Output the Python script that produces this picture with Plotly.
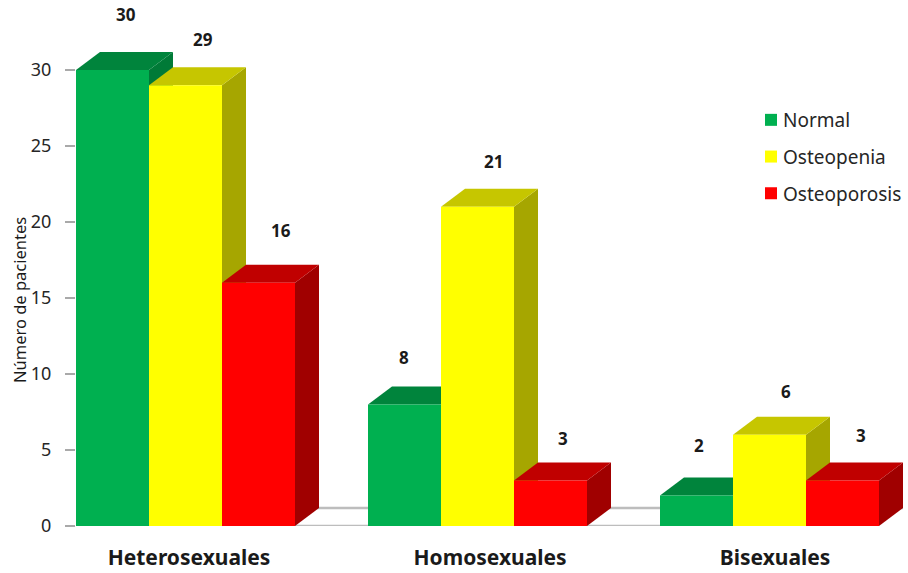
import plotly.graph_objects as go

categories = ["Heterosexuales", "Homosexuales", "Bisexuales"]
series_names = ["Normal", "Osteopenia", "Osteoporosis"]
normal = [30, 8, 2]
osteopenia = [29, 21, 6]
osteoporosis = [16, 3, 3]
y_ticks = [0, 5, 10, 15, 20, 25, 30]
y_title = "Número de pacientes"

series_values = [normal, osteopenia, osteoporosis]
front_colors = ["#00B050", "#FFFF00", "#FF0000"]
top_colors = ["#00843C", "#C6C600", "#C00000"]
side_colors = ["#007A37", "#A6A600", "#A00000"]

W, H = 908, 573
M_L, M_B = 76, 47
PX_PER_GROUP = 292.0
PX_PER_UNIT = 15.2
BAR_W = 0.25
DX = 24 / PX_PER_GROUP
DY = 18 / PX_PER_UNIT
X_MIN = -1.5 * BAR_W
X_MAX = X_MIN + (W - M_L) / PX_PER_GROUP
Y_MAX = (H - M_B) / PX_PER_UNIT

# pixel nudges of the value labels, indexed [series][category]
label_shift_x = [[13, -1, 2], [17, 16, 16], [22, 12, 18]]
label_shift_y = [[56, 47, 50], [46, 45, 43], [52, 42, 45]]
# x-nudge of category labels, in group units
cat_label_nudge = [0.012, 0.043, 0.019]

FONT = "Noto Sans"
fig = go.Figure()

# floor: back edge and front edge
x_end = 2 + 1.5 * BAR_W
fig.add_trace(go.Scatter(x=[X_MIN + DX, x_end + DX], y=[DY, DY], mode="lines",
                         line=dict(color="#BDBDBD", width=2.5), showlegend=False,
                         hoverinfo="skip", cliponaxis=False))
fig.add_trace(go.Scatter(x=[X_MIN, x_end], y=[0, 0], mode="lines",
                         line=dict(color="#BDBDBD", width=2.5), showlegend=False,
                         hoverinfo="skip", cliponaxis=False))
fig.add_trace(go.Scatter(x=[X_MIN, X_MIN], y=[0, max(y_ticks)], mode="lines",
                         line=dict(color="#A9A9A9", width=2), showlegend=False,
                         hoverinfo="skip", cliponaxis=False))

# depth faces, painted group by group and left to right
for g in range(len(categories)):
    for s, vals in enumerate(series_values):
        v = vals[g]
        x0 = g + (s - 1.5) * BAR_W
        x1 = x0 + BAR_W
        fig.add_trace(go.Scatter(
            x=[x1, x1 + DX, x1 + DX, x1, x1], y=[0, DY, v + DY, v, 0],
            mode="lines", fill="toself", fillcolor=side_colors[s],
            line=dict(width=0, color=side_colors[s]), showlegend=False,
            hoverinfo="skip", cliponaxis=False))
        fig.add_trace(go.Scatter(
            x=[x0, x0 + DX, x1 + DX, x1, x0], y=[v, v + DY, v + DY, v, v],
            mode="lines", fill="toself", fillcolor=top_colors[s],
            line=dict(width=0, color=top_colors[s]), showlegend=False,
            hoverinfo="skip", cliponaxis=False))

# front faces, on an overlaying pair of axes so they sit above the depth faces
for s, name in enumerate(series_names):
    fig.add_trace(go.Bar(x=list(range(len(categories))), y=series_values[s], name=name,
                         marker=dict(color=front_colors[s], line=dict(width=0)),
                         xaxis="x2", yaxis="y2", legendgroup=name))

# value labels
for s, vals in enumerate(series_values):
    for g, v in enumerate(vals):
        fig.add_annotation(x=g + (s - 1) * BAR_W, y=v, xref="x", yref="y", text=str(v),
                           showarrow=False, xshift=label_shift_x[s][g], yshift=label_shift_y[s][g],
                           font=dict(family=FONT, size=17, color="#1A1A1A", weight="bold"))

# y-axis title: centred lower than the axis domain in the reference
fig.add_annotation(xref="paper", yref="paper", x=(19 - M_L) / (W - M_L), y=1 - 300 / (H - M_B),
                   xanchor="center", yanchor="middle", text=y_title, textangle=-90,
                   showarrow=False, font=dict(family=FONT, size=16.5, color="#1A1A1A"))

axis_range_x = [X_MIN, X_MAX]
axis_range_y = [0, Y_MAX]
fig.update_layout(
    width=W, height=H, autosize=False,
    margin=dict(l=M_L, r=0, t=0, b=M_B, pad=0),
    paper_bgcolor="white", plot_bgcolor="white",
    barmode="group", bargap=0.25, bargroupgap=0,
    font=dict(family=FONT, color="#262626"),
    showlegend=True,
    legend=dict(x=(752 - M_L) / (W - M_L), xanchor="left", y=1 - 101 / (H - M_B), yanchor="top",
                font=dict(family=FONT, size=19, color="#262626"),
                tracegroupgap=9, traceorder="grouped", indentation=-9,
                bgcolor="rgba(0,0,0,0)"),
    xaxis=dict(range=axis_range_x, tickmode="array",
               tickvals=[i + n for i, n in enumerate(cat_label_nudge)], ticktext=categories,
               showgrid=False, zeroline=False, showline=False, ticks="", ticklen=0,
               ticklabelstandoff=17,
               tickfont=dict(family=FONT, size=21, color="#1A1A1A", weight="bold")),
    yaxis=dict(range=axis_range_y, tickmode="array", tickvals=y_ticks, showgrid=False,
               zeroline=False, showline=False, ticks="outside", ticklen=10, tickwidth=2,
               tickcolor="#A9A9A9", ticklabelstandoff=10,
               tickfont=dict(family=FONT, size=18, color="#262626")),
    xaxis2=dict(range=axis_range_x, overlaying="x", visible=False),
    yaxis2=dict(range=axis_range_y, overlaying="y", visible=False),
)

# page margin off; legend swatches sit closer to their text in the reference
post = """
document.body.style.margin='0';
function nudgeSwatches(){
  document.querySelectorAll('.legend g.legendsymbols').forEach(function(e){
    e.setAttribute('transform','translate(8,0)');
  });
}
nudgeSwatches();
setTimeout(nudgeSwatches, 50);
"""
fig.write_html("out.html", config={"displayModeBar": False}, post_script=post)
